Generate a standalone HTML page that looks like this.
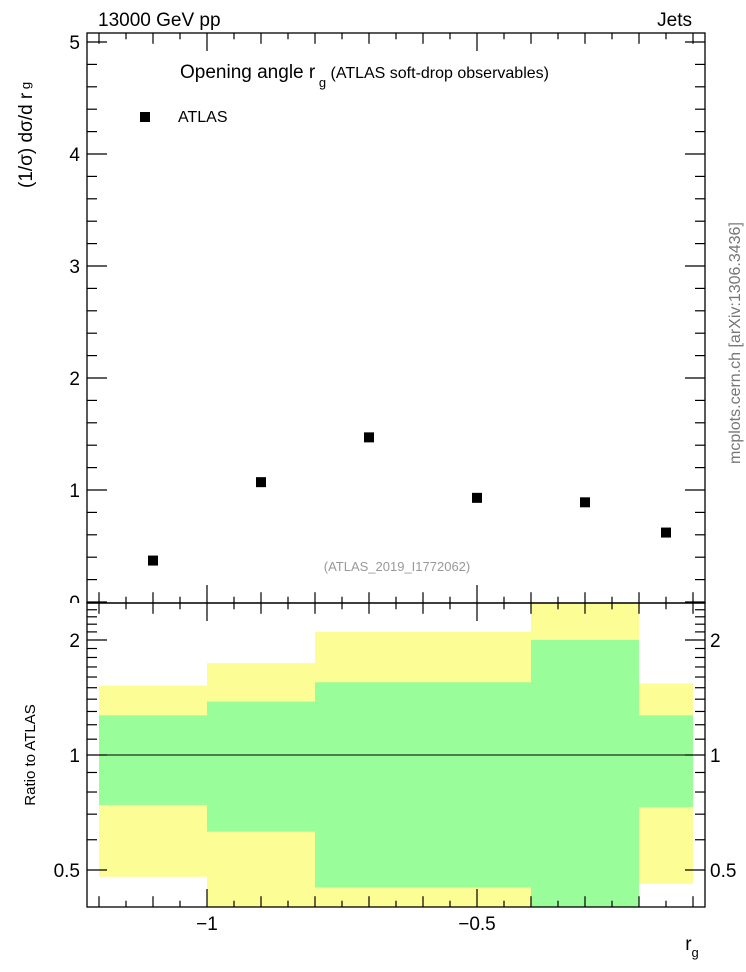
<!DOCTYPE html>
<html><head><meta charset="utf-8"><style>
body{margin:0;background:#fff}
svg{display:block;font-family:"Liberation Sans",sans-serif}
</style></head><body>
<svg id="c" width="746" height="972" viewBox="0 0 746 972">
<text x="98" y="26" font-size="19">13000 GeV pp</text>
<text x="692" y="26" font-size="19" text-anchor="end">Jets</text>
<text x="180" y="78" font-size="19">Opening angle r<tspan dy="9" font-size="13"> g</tspan><tspan dy="-9" font-size="16"> (ATLAS soft-drop observables)</tspan></text>
<rect x="140" y="112" width="10" height="10" fill="#000"/>
<text x="178" y="122" font-size="16">ATLAS</text>
<text x="397" y="571" font-size="13" fill="#999" text-anchor="middle">(ATLAS_2019_I1772062)</text>
<text transform="translate(740,464) rotate(-90)" font-size="16" fill="#777">mcplots.cern.ch [arXiv:1306.3436]</text>
<text transform="translate(32,188) rotate(-90)" font-size="19">(1/σ) dσ/d r<tspan dy="-2" font-size="13"> g</tspan></text>
<text transform="translate(35,755) rotate(-90)" font-size="15" text-anchor="middle">Ratio to ATLAS</text>
<text x="692" y="950" font-size="19" text-anchor="middle">r<tspan dy="7" font-size="13">g</tspan></text>
<g id="bands"></g><g id="axes"></g><g id="pts"></g>
<rect x="0" y="603" width="86" height="8" fill="#fff"/>
</svg>
<script>
const binLo=[-1.2,-1.0,-0.8,-0.6,-0.4,-0.2];
const binHi=[-1.0,-0.8,-0.6,-0.4,-0.2,-0.1];
const dataValues=[0.37,1.07,1.47,0.93,0.89,0.62];
const yellowHi=[1.52,1.74,2.10,2.10,2.7,1.54];
const greenHi=[1.27,1.38,1.55,1.55,2.0,1.27];
const greenLo=[0.74,0.63,0.45,0.45,0.35,0.73];
const yellowLo=[0.48,0.35,0.38,0.38,0.3,0.46];
const mainTicks=["0","1","2","3","4","5"];
const xTicks=["−1","−0.5"];
const ratioTicks=["0.5","1","2"];
const NS="http://www.w3.org/2000/svg";
const L=87,R=705,MT=33,MB=603,RB=907;
const X=v=>207+(v+1)*540;
const Y=v=>602-v*112;
const YR=r=>755-Math.log2(r)*115;
function mk(t,a,p){const e=document.createElementNS(NS,t);for(const k in a)e.setAttribute(k,a[k]);p.appendChild(e);return e;}
const bands=document.getElementById('bands'),axes=document.getElementById('axes'),pts=document.getElementById('pts');
const cl=(y)=>Math.max(MB,Math.min(RB,y));
for(let i=0;i<binLo.length;i++){
 const x0=X(binLo[i]),x1=X(binHi[i]);
 const yb=mk('rect',{x:x0,y:cl(YR(yellowHi[i])),width:x1-x0,height:cl(YR(yellowLo[i]))-cl(YR(yellowHi[i])),fill:'#fdfd96'},bands);
 
 
 const gb=mk('rect',{x:x0,y:cl(YR(greenHi[i])),width:x1-x0,height:cl(YR(greenLo[i]))-cl(YR(greenHi[i])),fill:'#99fd99'},bands);
 
 
 const p=mk('rect',{x:(x0+x1)/2-5,y:Y(dataValues[i])-5,width:10,height:10,fill:'#000'},pts);
 
 
}
const ref=mk('line',{x1:L,x2:R,y1:YR(1),y2:YR(1),stroke:'#000','stroke-width':1},axes);


for(const [t,b] of [[MT,MB],[MB,RB]]){
 const f=mk('rect',{x:L,y:t,width:R-L,height:b-t,fill:'none',stroke:'#000','stroke-width':1.3},axes);
 
 
}
const ln=(x1,y1,x2,y2)=>mk('line',{x1,y1,x2,y2,stroke:'#000','stroke-width':1.2},axes);
for(let k=0;k<=23;k++){const v=-1.2+k*0.05;const x=X(v);if(x<L||x>R)continue;
 const m=Math.abs(v*2-Math.round(v*2))<1e-6?1:(Math.abs(v*10-Math.round(v*10))<1e-6?0.6:0.35);
 for(const [t,b] of [[MT,MB],[MB,RB]]){ln(x,b,x,b-18*m);ln(x,t,x,t+18*m);}
}
xTicks.forEach((s,i)=>{const t=mk('text',{x:X(-1+i*0.5),y:930,'font-size':19,'text-anchor':'middle'},axes);t.textContent=s;
 
 });
for(let k=0;k<=25;k++){const v=k*0.2,y=Y(v);const m=k%5==0?20:10;ln(L,y,L+m,y);ln(R,y,R-m,y);}
mainTicks.forEach(s=>{const t=mk('text',{x:80,y:Y(+s)+7,'font-size':19,'text-anchor':'end'},axes);t.textContent=s;
 
 });
for(let k=4;k<=25;k++){const r=k/10,y=YR(r);if(y<MB||y>RB)continue;const m=(r==0.5||r==1||r==2)?20:10;ln(L,y,L+m,y);ln(R,y,R-m,y);}
ratioTicks.forEach(s=>{const y=YR(+s)+7;
 const t=mk('text',{x:80,y,'font-size':19,'text-anchor':'end'},axes);t.textContent=s;
 
 
 const t2=mk('text',{x:710,y,'font-size':19},axes);t2.textContent=s;
 
 });
</script>
</body></html>
